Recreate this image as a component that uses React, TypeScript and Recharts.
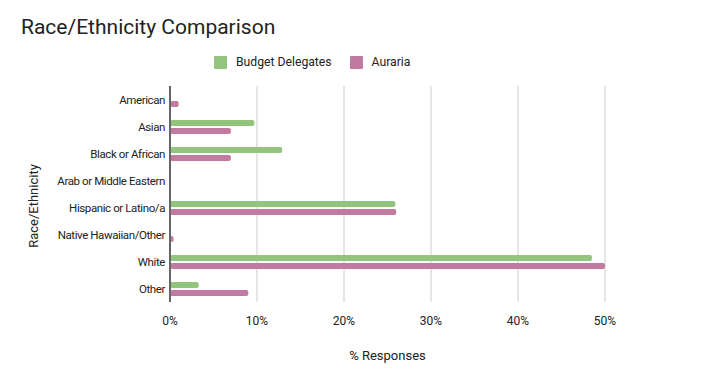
import { BarChart, Bar, XAxis, YAxis, CartesianGrid, Legend, Label } from "recharts";

const categories = [
  "American",
  "Asian",
  "Black or African",
  "Arab or Middle Eastern",
  "Hispanic or Latino/a",
  "Native Hawaiian/Other",
  "White",
  "Other",
];
const budgetDelegates = [0, 9.7, 12.9, 0, 25.9, 0, 48.5, 3.3];
const auraria = [1.0, 7.0, 7.0, 0, 26.0, 0.4, 50.0, 9.0];
const xTicks = [0, 10, 20, 30, 40, 50];

const GREEN = "#93c47d";
const PINK = "#c27ba0";
const FONT = "Roboto, 'Noto Sans', sans-serif";

const data = categories.map((name, i) => ({
  name,
  budget: budgetDelegates[i],
  auraria: auraria[i],
}));

function LegendBox() {
  const items = [
    { label: "Budget Delegates", color: GREEN },
    { label: "Auraria", color: PINK },
  ];
  return (
    <div style={{ display: "flex", alignItems: "center", fontFamily: FONT, fontSize: 12.2, color: "#222" }}>
      {items.map((it) => (
        <div key={it.label} style={{ display: "flex", alignItems: "center", marginRight: 18 }}>
          <span style={{ width: 13, height: 13, background: it.color, borderRadius: 1, marginRight: 9 }} />
          <span>{it.label}</span>
        </div>
      ))}
    </div>
  );
}

export default function App() {
  return (
    <div style={{ position: "absolute", left: 0, top: 0, width: 707, height: 376, background: "#fff", fontFamily: FONT }}>
      <div style={{ position: "absolute", left: 21, top: 15, fontSize: 21, color: "#222" }}>
        Race/Ethnicity Comparison
      </div>
      <BarChart
        width={707}
        height={376}
        data={data}
        layout="vertical"
        margin={{ top: 86, right: 102, bottom: 0, left: 0 }}
        barSize={6}
        barGap={2}
      >
        <CartesianGrid horizontal={false} stroke="#ccc" />
        <XAxis
          type="number"
          domain={[0, 50]}
          ticks={xTicks}
          tickFormatter={(v) => `${v}%`}
          axisLine={false}
          tickLine={false}
          tickSize={0}
          tickMargin={14}
          height={74}
          tick={{ fontSize: 12, fill: "#222", fontFamily: FONT }}
        >
          <Label value="% Responses" position="insideBottom" offset={16} style={{ fontSize: 13, fill: "#222", fontFamily: FONT }} />
        </XAxis>
        <YAxis
          type="category"
          dataKey="name"
          width={170}
          tickLine={false}
          tickSize={0}
          tickMargin={5}
          axisLine={{ stroke: "#666", strokeWidth: 2 }}
          tick={{ fontSize: 11.5, fill: "#222", fontFamily: FONT, letterSpacing: -0.4 }}
        >
          <Label
            content={() => (
              <text
                x={38}
                y={206}
                transform="rotate(-90 38 206)"
                textAnchor="middle"
                style={{ fontSize: 13, fill: "#222", fontFamily: FONT }}
              >
                Race/Ethnicity
              </text>
            )}
          />
        </YAxis>
        <Legend
          verticalAlign="middle"
          layout="horizontal"
          content={() => <LegendBox />}
          wrapperStyle={{ top: 55, left: 214, width: "auto" }}
        />
        <Bar dataKey="budget" name="Budget Delegates" fill={GREEN} radius={2} isAnimationActive={false} />
        <Bar dataKey="auraria" name="Auraria" fill={PINK} radius={2} isAnimationActive={false} />
      </BarChart>
    </div>
  );
}
